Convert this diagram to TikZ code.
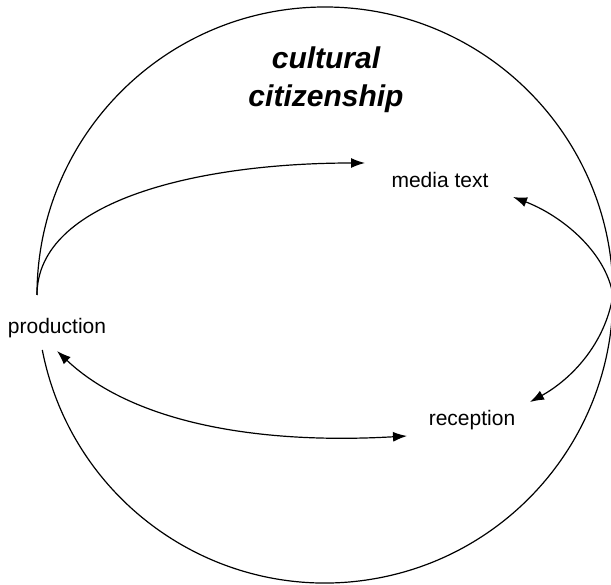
\documentclass[tikz,border=0pt]{standalone}
\usepackage{fontspec}
\setmainfont{Liberation Sans}
\usetikzlibrary{positioning,arrows.meta}

\begin{document}
\begin{tikzpicture}[x=1pt,y=-1pt,>={Latex[length=14pt,width=10pt]},line width=1.2pt,
  every node/.style={font=\fontsize{21}{25}\selectfont}]
  \useasboundingbox (0,0) rectangle (611,585);

  % points on the big circle
  \coordinate (c) at (325,295);
  \coordinate (l) at (37,295);
  \coordinate (r) at (613,295);

  \node (title) at (326,80) [align=center,font=\fontsize{30}{38}\selectfont\bfseries\itshape] {cultural\\citizenship};
  \node (media) at (440,180) {media text};
  \node (prod) at (57,328) {production};
  \node (recep) at (472,420) {reception};

  % free arrow ends
  \coordinate (mt) at (365,163);
  \coordinate (mr) at (513,197);
  \coordinate (rr) at (530,402);
  \coordinate (pl) at (57,351);
  \coordinate (rl) at (407,436);

  \draw (l) arc[start angle=180,end angle=360,radius=288];
  \draw (c) ++(169:288) arc[start angle=169,end angle=0,radius=288];

  \draw[->] (l) .. controls (37,200) and (200,163) .. (mt);
  \draw[->] (r) .. controls (605,250) and (560,215) .. (mr);
  \draw[->] (r) .. controls (605,345) and (570,380) .. (rr);
  \draw[<->] (pl) .. controls (130,420) and (250,445) .. (rl);
\end{tikzpicture}
\end{document}
